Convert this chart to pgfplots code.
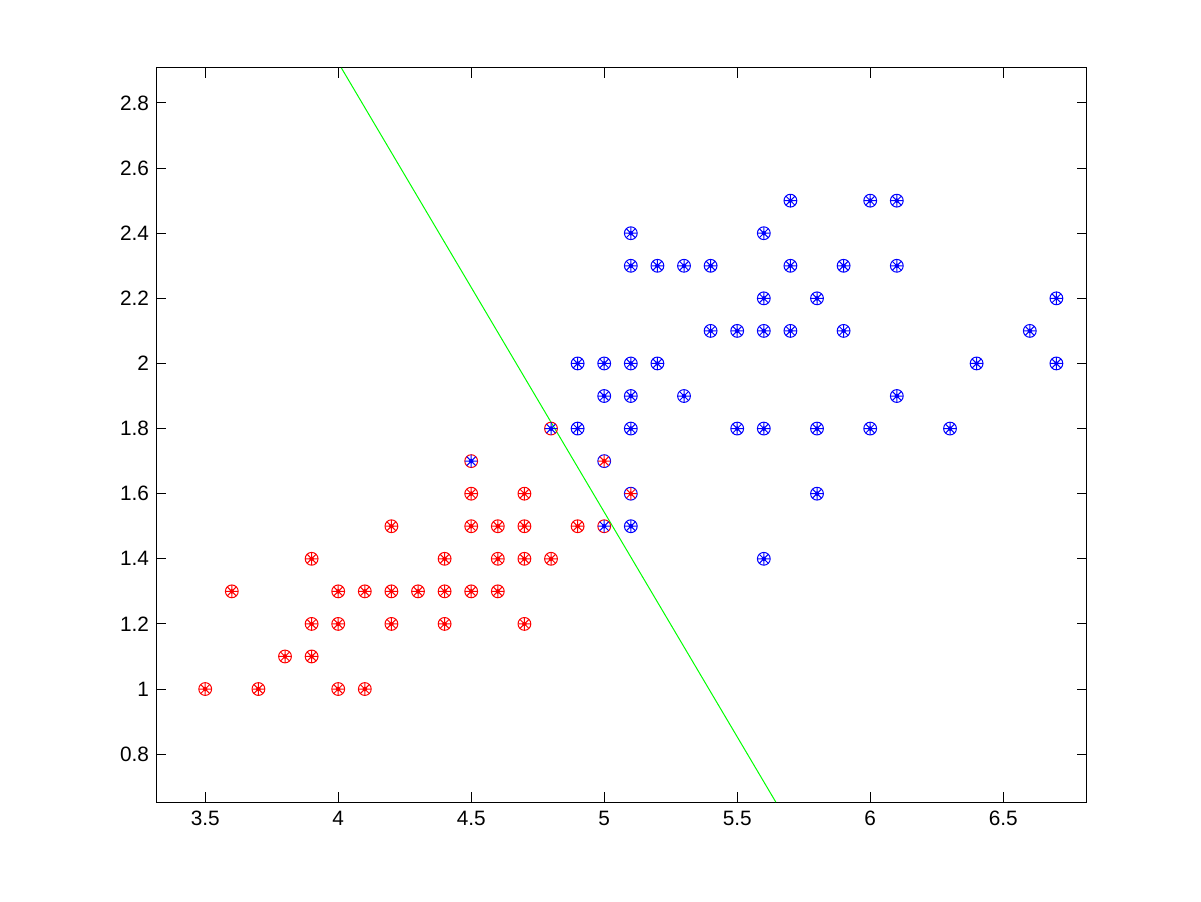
\documentclass[border=0pt]{standalone}
\usepackage{pgfplots}
\pgfplotsset{compat=1.18}
\usepackage{fontspec}
\setmainfont{Liberation Sans}
\definecolor{mred}{rgb}{1,0,0}
\definecolor{mblue}{rgb}{0,0,1}
\definecolor{mgreen}{rgb}{0,1,0}
\pgfdeclareplotmark{mstar}{%
  \pgfpathmoveto{\pgfqpoint{-\pgfplotmarksize}{0pt}}%
  \pgfpathlineto{\pgfqpoint{\pgfplotmarksize}{0pt}}%
  \pgfpathmoveto{\pgfqpoint{0pt}{-\pgfplotmarksize}}%
  \pgfpathlineto{\pgfqpoint{0pt}{\pgfplotmarksize}}%
  \pgfpathmoveto{\pgfqpoint{-0.7071\pgfplotmarksize}{-0.7071\pgfplotmarksize}}%
  \pgfpathlineto{\pgfqpoint{0.7071\pgfplotmarksize}{0.7071\pgfplotmarksize}}%
  \pgfpathmoveto{\pgfqpoint{-0.7071\pgfplotmarksize}{0.7071\pgfplotmarksize}}%
  \pgfpathlineto{\pgfqpoint{0.7071\pgfplotmarksize}{-0.7071\pgfplotmarksize}}%
  \pgfusepathqstroke
  \pgfpathcircle{\pgfpointorigin}{0.28\pgfplotmarksize}%
  \pgfusepathqfillstroke
}
\begin{document}
\begin{tikzpicture}
\path[use as bounding box] (0,0) rectangle (600.5pt,450.5pt);
\begin{axis}[
  at={(78pt,49.5pt)}, anchor=south west,
  scale only axis, width=465.5pt, height=367pt,
  xmin=3.315, xmax=6.815, ymin=0.653, ymax=2.9075,
  xtick={3.5,4,4.5,5,5.5,6,6.5},
  ytick={0.8,1,1.2,1.4,1.6,1.8,2,2.2,2.4,2.6,2.8},
  xticklabels={3.5,4,4.5,5,5.5,6,6.5},
  yticklabels={0.8,1,1.2,1.4,1.6,1.8,2,2.2,2.4,2.6,2.8},
  tick align=inside, xtick pos=both, ytick pos=both,
  major tick length=5pt,
  axis line style={line width=0.5pt},
  every tick/.style={black, line width=0.5pt},
  tick label style={font=\fontsize{10.4}{12}\selectfont},
  xticklabel style={yshift=-1pt},
  /pgf/number format/assume math mode=true,
  clip=true,
]
% circles: colour of predicted class
\addplot[only marks, mark=o, mark size=3.2pt, mark options={draw=mred, line width=0.5pt}] coordinates {
(3.5,1.0)(3.7,1.0)(4.0,1.0)(4.1,1.0)
(3.8,1.1)(3.9,1.1)
(3.9,1.2)(4.0,1.2)(4.2,1.2)(4.4,1.2)(4.7,1.2)
(3.6,1.3)(4.0,1.3)(4.1,1.3)(4.2,1.3)(4.3,1.3)(4.4,1.3)(4.5,1.3)(4.6,1.3)
(3.9,1.4)(4.4,1.4)(4.6,1.4)(4.7,1.4)(4.8,1.4)
(4.2,1.5)(4.5,1.5)(4.6,1.5)(4.7,1.5)(4.9,1.5)
(4.5,1.6)(4.7,1.6)
(4.5,1.7)(4.8,1.8)(5.0,1.5)
};
\addplot[only marks, mark=o, mark size=3.2pt, mark options={draw=mblue, line width=0.5pt}] coordinates {
(5.7,2.5)(6.0,2.5)(6.1,2.5)
(5.1,2.4)(5.6,2.4)
(5.1,2.3)(5.2,2.3)(5.3,2.3)(5.4,2.3)(5.7,2.3)(5.9,2.3)(6.1,2.3)
(5.6,2.2)(5.8,2.2)(6.7,2.2)
(5.4,2.1)(5.5,2.1)(5.6,2.1)(5.7,2.1)(5.9,2.1)(6.6,2.1)
(4.9,2.0)(5.0,2.0)(5.1,2.0)(5.2,2.0)(6.4,2.0)(6.7,2.0)
(5.0,1.9)(5.1,1.9)(5.3,1.9)(6.1,1.9)
(4.9,1.8)(5.1,1.8)(5.5,1.8)(5.6,1.8)(5.8,1.8)(6.0,1.8)(6.3,1.8)
(5.8,1.6)(5.1,1.5)(5.6,1.4)
(5.0,1.7)(5.1,1.6)
};
% asterisks: colour of true class
\addplot[only marks, mark=mstar, mark size=3.2pt, mark options={draw=mred, fill=mred, line width=0.5pt}] coordinates {
(3.5,1.0)(3.7,1.0)(4.0,1.0)(4.1,1.0)
(3.8,1.1)(3.9,1.1)
(3.9,1.2)(4.0,1.2)(4.2,1.2)(4.4,1.2)(4.7,1.2)
(3.6,1.3)(4.0,1.3)(4.1,1.3)(4.2,1.3)(4.3,1.3)(4.4,1.3)(4.5,1.3)(4.6,1.3)
(3.9,1.4)(4.4,1.4)(4.6,1.4)(4.7,1.4)(4.8,1.4)
(4.2,1.5)(4.5,1.5)(4.6,1.5)(4.7,1.5)(4.9,1.5)
(4.5,1.6)(4.7,1.6)
(5.0,1.7)(5.1,1.6)
};
\addplot[only marks, mark=mstar, mark size=3.2pt, mark options={draw=mblue, fill=mblue, line width=0.5pt}] coordinates {
(5.7,2.5)(6.0,2.5)(6.1,2.5)
(5.1,2.4)(5.6,2.4)
(5.1,2.3)(5.2,2.3)(5.3,2.3)(5.4,2.3)(5.7,2.3)(5.9,2.3)(6.1,2.3)
(5.6,2.2)(5.8,2.2)(6.7,2.2)
(5.4,2.1)(5.5,2.1)(5.6,2.1)(5.7,2.1)(5.9,2.1)(6.6,2.1)
(4.9,2.0)(5.0,2.0)(5.1,2.0)(5.2,2.0)(6.4,2.0)(6.7,2.0)
(5.0,1.9)(5.1,1.9)(5.3,1.9)(6.1,1.9)
(4.9,1.8)(5.1,1.8)(5.5,1.8)(5.6,1.8)(5.8,1.8)(6.0,1.8)(6.3,1.8)
(5.8,1.6)(5.1,1.5)(5.6,1.4)
(4.5,1.7)(4.8,1.8)(5.0,1.5)
};
% decision boundary
\addplot[mgreen, line width=0.5pt, no marks] coordinates {(4.012,2.9075)(5.645,0.653)};
\end{axis}
\end{tikzpicture}
\end{document}
